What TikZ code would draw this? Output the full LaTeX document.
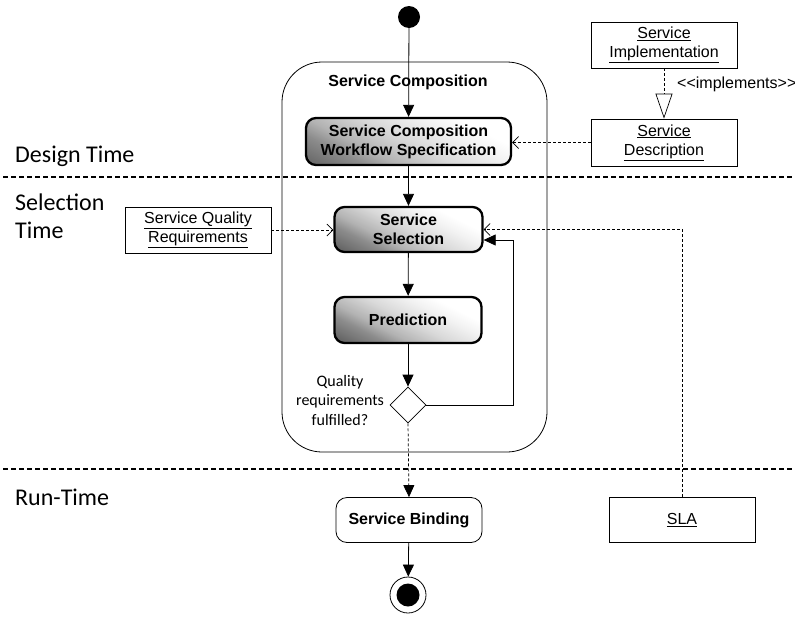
\documentclass[tikz,border=0pt]{standalone}
\usepackage{fontspec}
\setmainfont{Liberation Sans}
\newfontfamily\calfont{Carlito}
\usetikzlibrary{arrows.meta,shapes.geometric,calc}
\pgfdeclarehorizontalshading{boxshade}{100bp}{color(0bp)=(black!85); color(25bp)=(black!85); color(32.5bp)=(black!66); color(40.5bp)=(black!45); color(44bp)=(black!30); color(50bp)=(black!15); color(56bp)=(black!5); color(60bp)=(white); color(100bp)=(white)}
\tikzset{
  act/.style={draw, line width=2.3pt, rounded corners=10pt, font=\fontsize{16}{19}\selectfont\bfseries, align=center, inner sep=0pt,
    path picture={\shade[shading=boxshade, shading angle=63] let \p1=($(path picture bounding box.north east)-(path picture bounding box.south west)$), \n1={0.5*veclen(\x1,\y1)+2pt} in (path picture bounding box.center) circle (\n1);}},
  obj/.style={draw, line width=0.8pt, font=\fontsize{16}{19}\selectfont, align=center, inner sep=0pt, minimum width=146pt},
  flow/.style={line width=0.8pt, -{Triangle[length=12pt,width=11pt]}},
  dep/.style={line width=0.7pt, dash pattern=on 3pt off 2pt, -{Straight Barb[length=6pt,width=12pt,line width=0.7pt]}},
  sep/.style={line width=2.4pt, dash pattern=on 5pt off 3pt},
  lab/.style={font=\calfont\fontsize{24}{28}\selectfont, align=left, anchor=base west, inner sep=0pt}
}
\begin{document}
\begin{tikzpicture}[x=1pt,y=-1pt]
\useasboundingbox (0,0) rectangle (795,616);
% separators
\draw[sep] (3,177) -- (795,177);
\draw[sep] (3,469) -- (795,469);
% labels
\node[lab] (dt) at (15,162) {Design Time};
\node[lab] (st) at (15,238) {Selection\\Time};
\node[lab] (rt) at (15,505) {Run-Time};
% composite
\node[draw, line width=0.8pt, rounded corners=40pt, minimum width=265pt, minimum height=390pt, inner sep=0pt] (comp) at (414.5,257) {};
\node[font=\fontsize{16}{19}\selectfont\bfseries, inner sep=0pt, anchor=base] (ctitle) at (408,86) {Service Composition};
% nodes
\node[circle, fill=black, minimum size=22pt, inner sep=0pt] (start) at (409,17) {};
\node[act, minimum width=205pt, minimum height=47pt] (wf) at (408.5,141.5) {Service Composition\\Workflow Specification};
\node[act, minimum width=148pt, minimum height=45pt] (sel) at (408.5,229.5) {Service\\Selection};
\node[act, minimum width=147pt, minimum height=46pt] (pred) at (408,320) {Prediction};
\node[draw, diamond, line width=0.8pt, minimum width=36pt, minimum height=36pt, inner sep=0pt] (dia) at (408,405) {};
\node[font=\calfont\fontsize{16}{19.5}\selectfont, align=center, inner sep=0pt, anchor=base] (qtext) at (340,425) {Quality\\requirements\\fulfilled?};
\node[draw, line width=0.8pt, rounded corners=11pt, minimum width=146pt, minimum height=45pt, font=\fontsize{16}{19}\selectfont\bfseries, inner sep=0pt] (bind) at (409,520) {Service Binding};
\node[circle, draw, line width=0.8pt, minimum size=36pt, inner sep=0pt] (endo) at (408,595) {};
\node[circle, fill=black, minimum size=23pt, inner sep=0pt] (endi) at (408,595) {};
% objects
\node[obj, minimum height=46pt] (sqr) at (198,230) {\underline{Service Quality}\\\underline{Requirements}};
\node[obj, minimum height=45pt] (sla) at (682,520) {\underline{SLA}};
\node[obj, minimum height=46pt] (simp) at (664,45) {\underline{Service}\\\underline{Implementation}};
\node[obj, minimum height=47pt] (sdesc) at (664,142.5) {\underline{Service}\\\underline{Description}};
\node[font=\fontsize{16}{19}\selectfont, anchor=west, inner sep=0pt] (impl) at (677,84) {<\kern0pt<implements>\kern0pt>};
% flows
\draw[flow] (start) -- (wf);
\draw[flow] (wf) -- (sel);
\draw[flow] (sel) -- (pred);
\draw[flow] (pred) -- (dia);
\coordinate (fbk) at (513,240);
\draw[flow] (dia.east) -| (fbk) -- (fbk -| sel.east);
\draw[line width=0.7pt, dash pattern=on 3pt off 2pt, -{Triangle[length=12pt,width=11pt]}] (dia.south) -- (bind.north);
\draw[flow] (bind) -- (endo);
% dependencies
\draw[dep] (sdesc.west) -- (sdesc.west -| wf.east);
\draw[dep] (sqr.east) -- (sqr.east -| sel.west);
\coordinate (slac) at (682,229.5);
\draw[dep] (sla.north) -- (slac) -- (slac -| sel.east);
\draw[line width=0.7pt, dash pattern=on 3pt off 2pt, -{Triangle[open,length=25pt,width=17pt,line width=0.7pt]}] (simp.south) -- (sdesc.north);
\end{tikzpicture}
\end{document}
